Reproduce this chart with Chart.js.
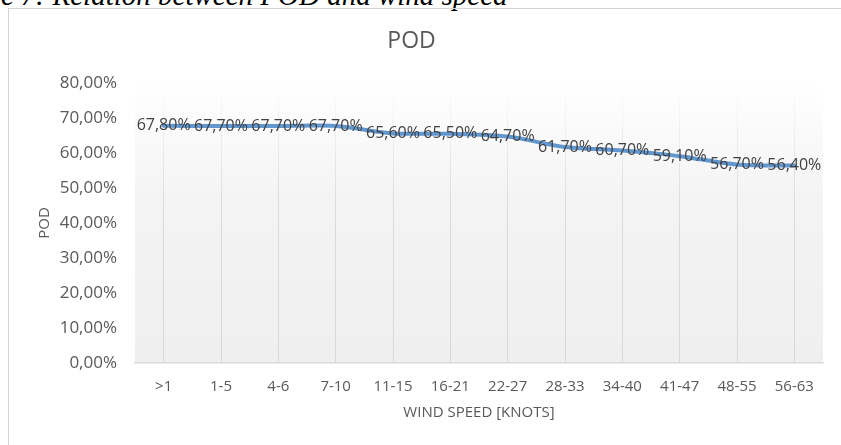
<!DOCTYPE html>
<html>
<head>
<meta charset="utf-8">
<script src="https://cdn.jsdelivr.net/npm/chart.js@4.4.1/dist/chart.umd.min.js"></script>
<style>
  html, body { margin: 0; padding: 0; background: #ffffff; overflow: hidden; }
  #wrap { position: relative; width: 841px; height: 445px; overflow: hidden; }
  #caption {
    position: absolute; left: -64px; top: -19px; white-space: nowrap;
    font-family: "Liberation Serif", "DejaVu Serif", serif; font-style: italic;
    font-size: 29px; line-height: 29px; color: #000;
  }
  #frame {
    position: absolute; left: 8px; top: 8px; width: 900px; height: 500px;
    border: 1px solid #d4d4d4; box-sizing: border-box;
  }
  #c { position: absolute; left: 0; top: 0; }
</style>
</head>
<body>
<div id="wrap">
  <div id="caption">Figure 7: Relation between POD and wind speed</div>
  <div id="frame"></div>
  <canvas id="c" width="841" height="445"></canvas>
</div>
<script>
// ---- data ----
const categories = ['>1', '1-5', '4-6', '7-10', '11-15', '16-21', '22-27', '28-33', '34-40', '41-47', '48-55', '56-63'];
const podValues = [67.8, 67.7, 67.7, 67.7, 65.6, 65.5, 64.7, 61.7, 60.7, 59.1, 56.7, 56.4];
const yTickValues = [0, 10, 20, 30, 40, 50, 60, 70, 80];
const chartTitle = 'POD';
const xAxisTitle = 'WIND SPEED [KNOTS]';
const yAxisTitle = 'POD';

const fmtPct = v => Number(v).toFixed(2).replace('.', ',') + '%';
const FONT = '"Open Sans", "Noto Sans", sans-serif';

const plotBg = {
  id: 'plotBg',
  beforeDraw(chart) {
    const { ctx, chartArea: a } = chart;
    const g = ctx.createLinearGradient(0, a.top, 0, a.bottom);
    g.addColorStop(0, '#ffffff');
    g.addColorStop(0.4, '#f4f4f4');
    g.addColorStop(1, '#efefef');
    ctx.save();
    ctx.fillStyle = g;
    ctx.fillRect(a.left, a.top, a.right - a.left, a.bottom - a.top);
    ctx.restore();
  }
};

const dataLabels = {
  id: 'dataLabels',
  afterDatasetsDraw(chart) {
    const { ctx } = chart;
    const meta = chart.getDatasetMeta(0);
    const vals = chart.data.datasets[0].data;
    ctx.save();
    ctx.font = '16px ' + FONT;
    ctx.fillStyle = '#404040';
    ctx.textAlign = 'center';
    ctx.textBaseline = 'middle';
    meta.data.forEach((pt, i) => {
      ctx.fillText(fmtPct(vals[i]), pt.x, pt.y);
    });
    ctx.restore();
  }
};

function gridColor(context) {
  const chart = context.chart;
  const a = chart.chartArea;
  if (!a) return '#d9d9d9';
  const g = chart.ctx.createLinearGradient(0, a.top, 0, a.bottom);
  g.addColorStop(0, 'rgba(217,217,217,0)');
  g.addColorStop(0.3, 'rgba(217,217,217,0.6)');
  g.addColorStop(0.5, 'rgba(217,217,217,1)');
  g.addColorStop(1, 'rgba(217,217,217,1)');
  return g;
}

new Chart(document.getElementById('c'), {
  type: 'line',
  data: {
    labels: categories,
    datasets: [{
      label: 'POD',
      data: podValues,
      borderColor: '#6196cf',
      borderWidth: 4,
      borderCapStyle: 'round',
      borderJoinStyle: 'round',
      tension: 0.3,
      pointRadius: 0,
      fill: false
    }]
  },
  options: {
    responsive: false,
    animation: false,
    layout: { padding: { left: 0, right: 18, top: 14, bottom: 0 } },
    plugins: {
      legend: { display: false },
      tooltip: { enabled: false },
      title: {
        display: true,
        text: chartTitle,
        color: '#595959',
        font: { family: FONT, size: 23, weight: 'normal' },
        padding: { top: 14, bottom: 27.4 }
      }
    },
    scales: {
      x: {
        type: 'category',
        offset: true,
        grid: { offset: false, color: gridColor, lineWidth: 1, drawTicks: false },
        border: { color: '#d9d9d9', width: 1.5 },
        ticks: { color: '#595959', font: { family: FONT, size: 15 }, padding: 15, maxRotation: 0, autoSkip: false },
        title: {
          display: true, text: xAxisTitle, color: '#595959',
          font: { family: FONT, size: 15 }, padding: { top: 9, bottom: 23 }
        },
        afterFit(s) { s.height = 82; }
      },
      y: {
        min: 0, max: 80,
        afterBuildTicks(s) { s.ticks = yTickValues.map(v => ({ value: v })); },
        grid: { display: false, drawTicks: false },
        border: { display: false },
        ticks: { color: '#595959', font: { family: FONT, size: 17 }, padding: 18, callback: v => fmtPct(v) },
        title: {
          display: true, text: yAxisTitle, color: '#595959',
          font: { family: FONT, size: 15 }, padding: { top: 36, bottom: 0 }
        },
        afterFit(s) { s.width = 135; }
      }
    }
  },
  plugins: [plotBg, dataLabels]
});
</script>
</body>
</html>
